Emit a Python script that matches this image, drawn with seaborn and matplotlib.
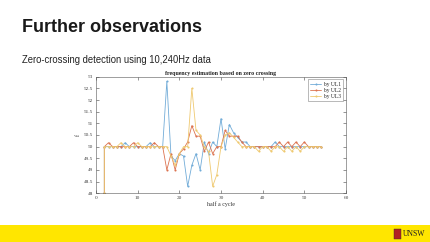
import matplotlib
matplotlib.use("Agg")
import matplotlib.pyplot as plt
import seaborn as sns
import pandas as pd
from matplotlib.patches import Rectangle

# ---- data ----
half_cycle = [2] + list(range(2, 55))
ul1 = [48, 50, 50, 50, 50, 50, 50.17, 50, 50, 50, 50, 50, 50.17, 50, 50,
       50, 52.8, 49.6, 49.4, 49.7, 49.6, 48.3, 49.2, 49.7, 49.0, 50.2, 49.7, 50.2, 50.0,
       51.2, 49.9, 50.95, 50.6, 50.4, 50.2, 50.2, 50, 50, 50, 50, 50, 50, 50.2, 50,
       50, 50, 50, 50, 50, 50, 50, 50, 50, 50]
ul2 = [48, 50, 50.17, 50, 50, 50, 50, 50, 50.17, 50, 50, 50, 50, 50.17, 50,
       50, 49.0, 49.7, 49.0, 49.7, 49.9, 50.2, 50.9, 50.45, 50.45, 49.8, 50.2, 49.7, 50.0,
       50.0, 50.7, 50.45, 50.45, 50.45, 50.2, 50.0, 50, 50, 50, 50, 50, 50, 50, 50.2,
       50, 50.2, 50, 50.2, 50, 50.2, 50, 50, 50, 50]
ul3 = [48, 50, 50, 50, 50, 50.17, 50, 50, 50, 50.17, 50, 50, 50, 50, 50,
       50, 50, 49.6, 49.2, 49.7, 50.0, 50.0, 52.5, 50.7, 50.5, 50.0, 49.8, 48.3, 48.8,
       50.0, 50.5, 50.6, 50.4, 50.2, 50.0, 50, 50, 50, 49.8, 50, 50, 49.8, 50, 50,
       49.8, 50, 49.8, 50, 49.8, 50, 50, 50, 50, 50]
series_names = ["by UL1", "by UL2", "by UL3"]
colors = ["#72ACD8", "#DC7350", "#EFC970"]

title_text = "Further observations"
subtitle_text = "Zero-crossing detection using 10,240Hz data"
ax_title = "frequency estimation based on zero crossing"
x_ticks = [0, 10, 20, 30, 40, 50, 60]
y_ticks = [48, 48.5, 49, 49.5, 50, 50.5, 51, 51.5, 52, 52.5, 53]

rows = []
for name, vals in zip(series_names, [ul1, ul2, ul3]):
    for i, (xv, yv) in enumerate(zip(half_cycle, vals)):
        rows.append({"half": xv, "f": yv, "series": name, "order": i})
df = pd.DataFrame(rows)

sns.set_style("ticks")
plt.rcParams["font.family"] = ["Liberation Serif", "DejaVu Serif"]

fig = plt.figure(figsize=(4.3, 2.42), dpi=100)
fig.patch.set_facecolor("white")

# slide texts
fig.text(22 / 430, 1 - 27 / 242, title_text, fontsize=13, fontweight="bold",
         family="Liberation Sans", color="#1a1a1a", va="center", ha="left")
fig.text(22 / 430, 1 - 60 / 242, subtitle_text, fontsize=6.85,
         family="Liberation Sans", color="#222222", va="center", ha="left")

# yellow band
fig.patches.append(Rectangle((0, 0), 1, 17 / 242, transform=fig.transFigure,
                             facecolor="#FFE600", edgecolor="none", zorder=0))
fig.patches.append(Rectangle((394 / 430, 3 / 242), 7 / 430, 10 / 242, transform=fig.transFigure,
                             facecolor="#B22222", edgecolor="#333333", linewidth=0.3, zorder=1))
fig.text(403 / 430, 8.5 / 242, "UNSW", fontsize=5.5, family="Liberation Serif",
         color="#222222", va="center", ha="left")

ax = fig.add_axes([96 / 430, 1 - 193.3 / 242, 250 / 430, 116.6 / 242])
sns.lineplot(data=df, x="half", y="f", hue="series", palette=colors,
             estimator=None, sort=False, units="series", ax=ax,
             linewidth=0.6, marker="o", markersize=1.5, markeredgewidth=0)

ax.set_xlim(0, 60)
ax.set_ylim(48, 53)
ax.set_xticks(x_ticks)
ax.set_yticks(y_ticks)
ax.set_yticklabels([("%g" % v) for v in y_ticks])
ax.tick_params(direction="in", length=2, width=0.4, labelsize=3.8, colors="#444444",
               top=True, right=True, pad=2)
for s in ax.spines.values():
    s.set_linewidth(0.4)
    s.set_color("#555555")
ax.set_xlabel("half a cycle", fontsize=4.3, labelpad=1, color="#333333")
ax.set_ylabel("f", fontsize=4.3, labelpad=2, color="#333333")
ax.set_title(ax_title, fontsize=4.2, pad=1.5, fontweight="bold", color="#222222")
leg = ax.legend(loc="upper right", fontsize=4, frameon=True, fancybox=False,
                handlelength=2, borderpad=0.4, labelspacing=0.2, handletextpad=0.5)
leg.get_frame().set_linewidth(0.4)
leg.get_frame().set_edgecolor("#666666")

fig.savefig("out.png", dpi=100)
